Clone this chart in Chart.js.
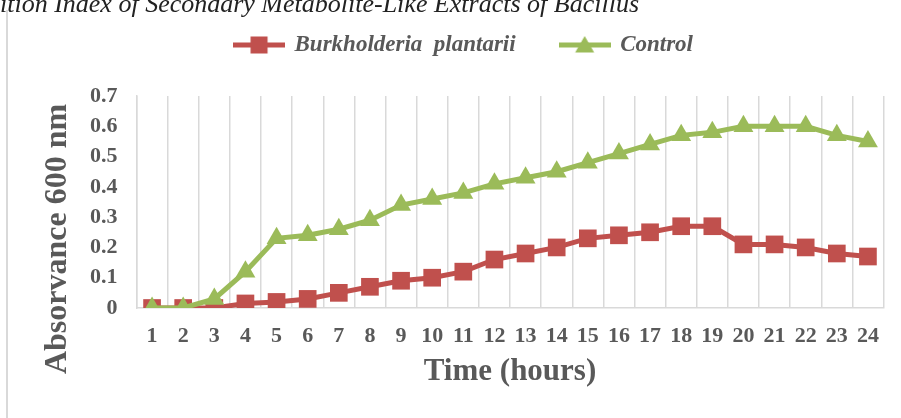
<!DOCTYPE html>
<html>
<head>
<meta charset="utf-8">
<script src="https://cdn.jsdelivr.net/npm/chart.js@4.4.1/dist/chart.umd.min.js"></script>
<style>
  html, body { margin: 0; padding: 0; background: #fff; }
</style>
</head>
<body>
<canvas id="growthChart" width="901" height="418"></canvas>
<script>
var HOURS = ['1', '2', '3', '4', '5', '6', '7', '8', '9', '10', '11', '12',
  '13', '14', '15', '16', '17', '18', '19', '20', '21', '22', '23', '24'];
var BURKHOLDERIA = [0, 0, 0, 0.015, 0.02, 0.03, 0.05, 0.07, 0.09, 0.10, 0.12, 0.16,
  0.18, 0.20, 0.23, 0.24, 0.25, 0.27, 0.27, 0.21, 0.21, 0.20, 0.18, 0.17];
var CONTROL = [0, 0, 0.03, 0.12, 0.23, 0.24, 0.26, 0.29, 0.34, 0.36, 0.38, 0.41,
  0.43, 0.45, 0.48, 0.51, 0.54, 0.57, 0.58, 0.60, 0.60, 0.60, 0.57, 0.55];
var Y_LABELS = ['0', '0.1', '0.2', '0.3', '0.4', '0.5', '0.6', '0.7'];

var RED = '#C0504D';
var GREEN = '#9BBB59';
var GREY_TEXT = '#595959';
var GRID = '#d9d9d9';
var SERIF = '"Liberation Serif", "Times New Roman", serif';

// little line + marker picture for the legend
function legendIcon(color, shape) {
  var c = document.createElement('canvas');
  c.width = 52; c.height = 20;
  var g = c.getContext('2d');
  g.strokeStyle = color;
  g.lineWidth = 5;
  g.beginPath(); g.moveTo(0, 10); g.lineTo(52, 10); g.stroke();
  g.fillStyle = color;
  if (shape === 'rect') {
    g.fillRect(17.5, 1.5, 17, 17);
  } else {
    g.beginPath(); g.moveTo(26, 1); g.lineTo(35.5, 17.5); g.lineTo(16.5, 17.5); g.closePath(); g.fill();
  }
  return c;
}

var extras = {
  id: 'extras',
  beforeInit: function (chart) {
    var fit = chart.legend.fit;
    chart.legend.fit = function () {
      fit.call(this);
      this.height = 107.5;
    };
  },
  beforeDraw: function (chart) {
    var ctx = chart.ctx;
    ctx.save();
    ctx.fillStyle = '#fff';
    ctx.fillRect(0, 0, chart.width, chart.height);
    ctx.strokeStyle = GRID;
    ctx.lineWidth = 2;
    ctx.beginPath(); ctx.moveTo(7, 10); ctx.lineTo(7, chart.height); ctx.stroke();
    ctx.fillStyle = '#222';
    ctx.font = 'italic 26px ' + SERIF;
    ctx.textAlign = 'right';
    ctx.textBaseline = 'alphabetic';
    ctx.fillText('Growth Inhibition Index of Secondary Metabolite-Like Extracts of Bacillus', 639, 12);
    ctx.restore();
  },
  afterDraw: function (chart) {
    var ctx = chart.ctx;
    ctx.save();
    ctx.translate(58, 239);
    ctx.rotate(-Math.PI / 2);
    ctx.fillStyle = GREY_TEXT;
    ctx.font = 'bold 32px ' + SERIF;
    ctx.textAlign = 'center';
    ctx.textBaseline = 'middle';
    ctx.fillText('Absorvance 600 nm', 0, 0);
    ctx.restore();
  }
};

new Chart(document.getElementById('growthChart'), {
  type: 'line',
  data: {
    labels: HOURS,
    datasets: [{
      label: 'Burkholderia  plantarii',
      data: BURKHOLDERIA,
      borderColor: RED,
      backgroundColor: RED,
      borderWidth: 5,
      pointStyle: 'rect',
      pointRadius: 12.5,
      pointBorderWidth: 0,
      order: 2
    }, {
      label: 'Control',
      data: CONTROL,
      borderColor: GREEN,
      backgroundColor: GREEN,
      borderWidth: 5,
      pointStyle: 'triangle',
      pointRadius: 11.5,
      pointBorderWidth: 0,
      order: 1
    }]
  },
  options: {
    responsive: false,
    animation: false,
    layout: { padding: { left: 44.5, right: 17.5, top: -11.5, bottom: 0 } },
    plugins: {
      tooltip: { enabled: false },
      legend: {
        position: 'top',
        labels: {
          usePointStyle: true,
          pointStyleWidth: 48,
          padding: 45,
          color: GREY_TEXT,
          font: { family: SERIF, size: 23, style: 'italic', weight: 'bold' },
          generateLabels: function (chart) {
            return chart.data.datasets.map(function (ds, i) {
              return {
                text: ds.label,
                pointStyle: legendIcon(ds.borderColor, ds.pointStyle),
                fillStyle: ds.borderColor,
                strokeStyle: ds.borderColor,
                lineWidth: 0,
                fontColor: GREY_TEXT,
                datasetIndex: i
              };
            });
          }
        }
      }
    },
    scales: {
      x: {
        offset: true,
        grid: { offset: true, color: GRID, lineWidth: 1.5, drawTicks: false },
        border: { color: GRID, width: 1.5 },
        ticks: {
          padding: 15,
          autoSkip: false,
          maxRotation: 0,
          color: GREY_TEXT,
          font: { family: SERIF, size: 22, weight: 'bold' }
        },
        title: {
          display: true,
          text: 'Time (hours)',
          color: GREY_TEXT,
          font: { family: SERIF, size: 31, weight: 'bold' },
          padding: { top: 0, bottom: 27 }
        },
        afterFit: function (scale) { scale.height = 110; }
      },
      y: {
        min: 0,
        max: 0.7,
        grid: { display: false, drawTicks: false },
        border: { color: GRID, width: 1.5 },
        ticks: {
          stepSize: 0.1,
          padding: 19,
          color: GREY_TEXT,
          font: { family: SERIF, size: 22, weight: 'bold' },
          callback: function (v, i) { return Y_LABELS[i]; }
        },
        afterFit: function (scale) { scale.width = 92; }
      }
    }
  },
  plugins: [extras]
});
</script>
</body>
</html>
